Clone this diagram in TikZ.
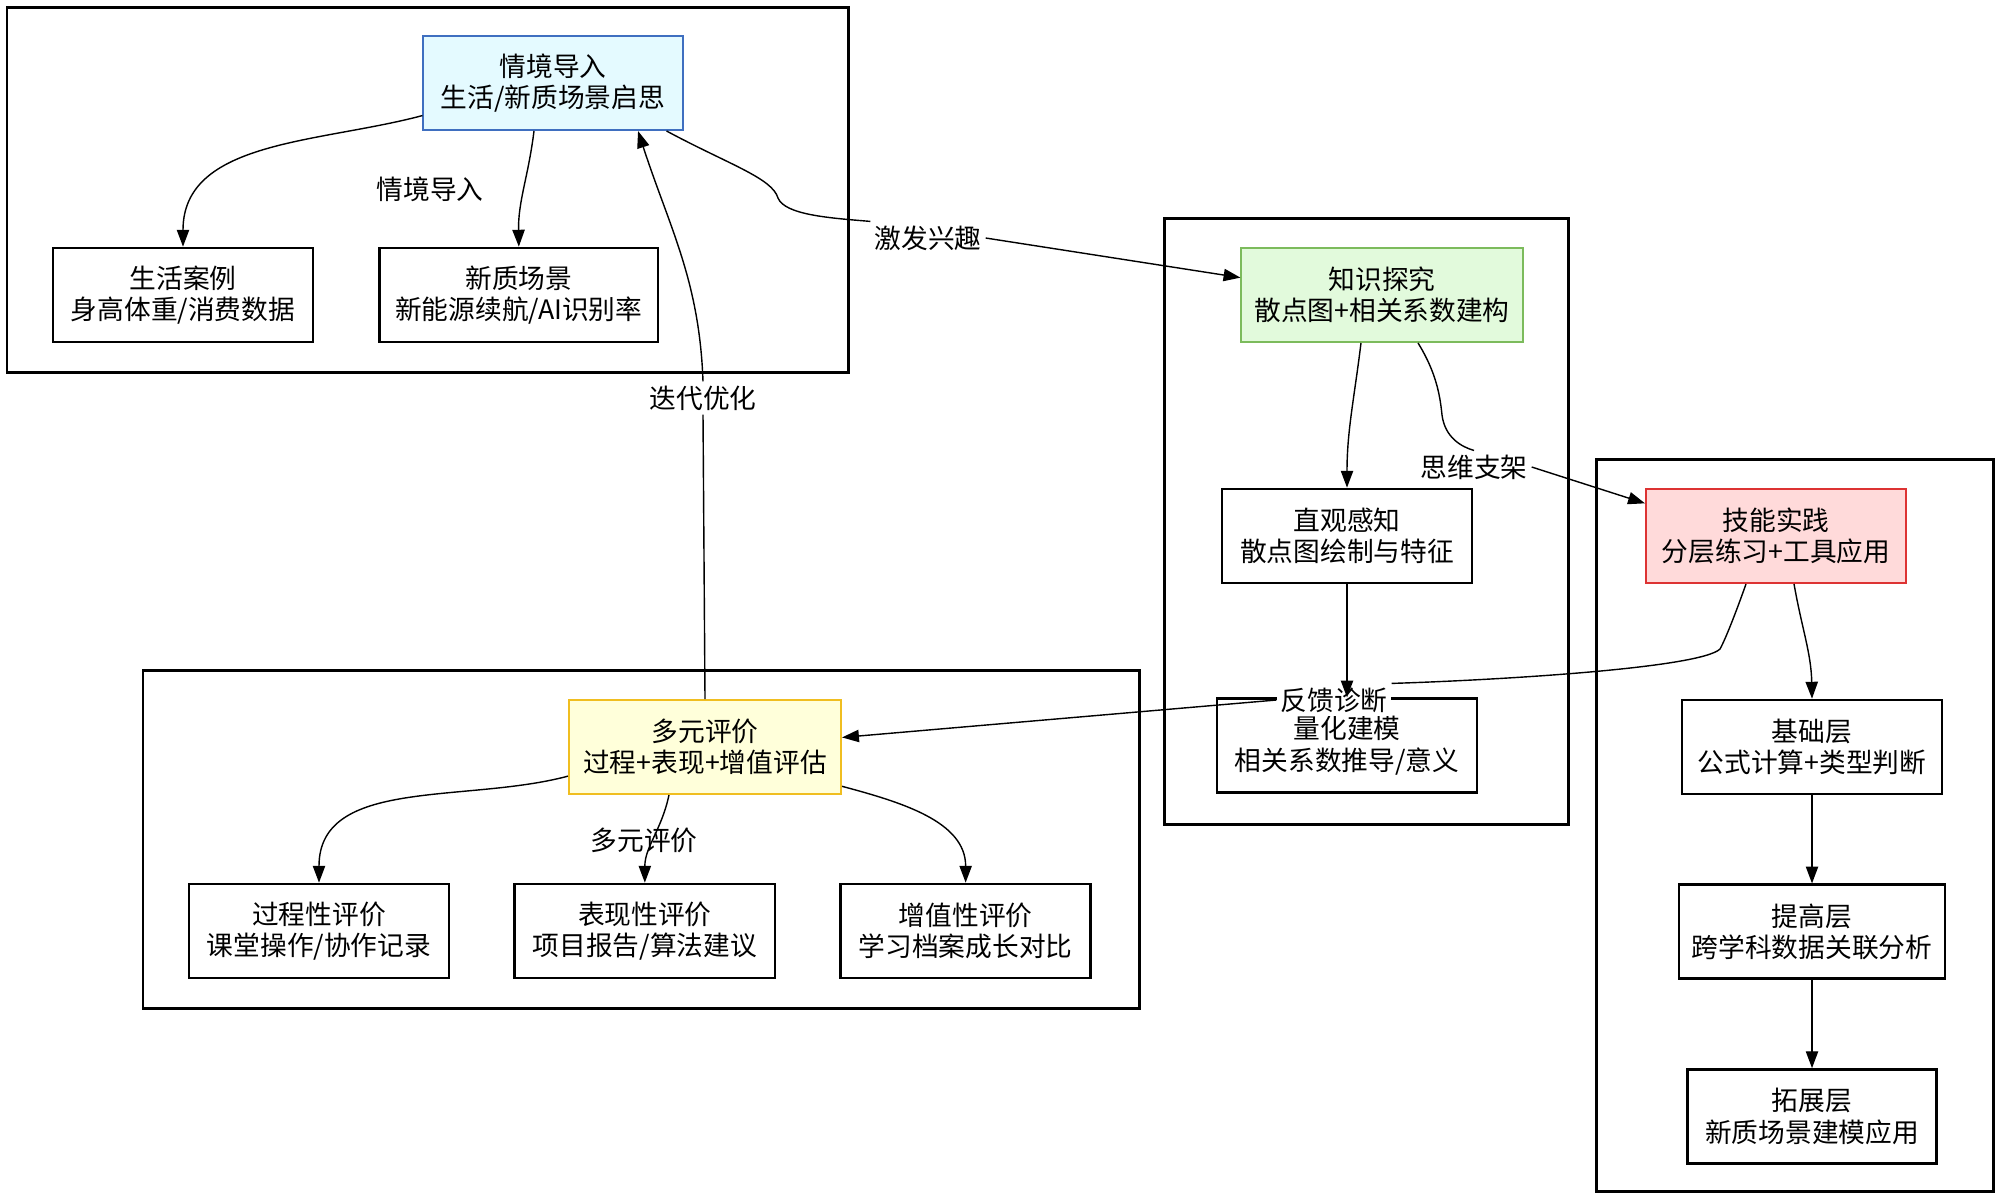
\documentclass[tikz,border=0pt]{standalone}
\usepackage{fontspec}
\setmainfont{Noto Sans CJK SC}
\usetikzlibrary{positioning, arrows.meta}

\definecolor{introfill}{HTML}{E4FAFF}
\definecolor{introline}{HTML}{3F6FC0}
\definecolor{explorefill}{HTML}{E2FADC}
\definecolor{exploreline}{HTML}{7CBB5C}
\definecolor{practicefill}{HTML}{FFDADA}
\definecolor{practiceline}{HTML}{DD3333}
\definecolor{assessfill}{HTML}{FFFFDA}
\definecolor{assessline}{HTML}{F0BE20}

\begin{document}
\begin{tikzpicture}[
        x=0.01cm, y=0.01cm,
        font=\fontsize{7.6}{8.9}\selectfont,
        box/.style={rectangle, draw, line width=0.75pt, minimum width=2.6cm, minimum height=0.94cm, align=center, inner sep=1pt},
        intro/.style={box, draw=introline, fill=introfill, line width=0.55pt},
        explore/.style={box, draw=exploreline, fill=explorefill, line width=0.55pt},
        practice/.style={box, draw=practiceline, fill=practicefill, line width=0.55pt},
        assess/.style={box, draw=assessline, fill=assessfill, line width=0.55pt},
        cluster/.style={draw, line width=0.85pt},
        tag/.style={fill=white, inner sep=1pt},
        line/.style={-, line width=0.4pt},
        edge/.style={-{Triangle[length=4.8pt, width=3.5pt]}, line width=0.4pt}
    ]
        \useasboundingbox (0,0) rectangle (2000,-1196);

        % Clusters
        \draw[cluster] (7,-7) rectangle (848,-372);
        \draw[cluster] (1164,-218) rectangle (1568,-824);
        \draw[cluster] (1596,-459) rectangle (1993,-1191);
        \draw[cluster] (143,-670) rectangle (1139,-1008);

        % Scene introduction
        \node[intro, minimum width=2.59cm] (qj) at (553,-83) {情境导入\\生活/新质场景启思};
        \node[box] (shcl) at (183,-295) {生活案例\\身高体重/消费数据};
        \node[box, minimum width=2.78cm, right=0.64cm of shcl] (xzcj) {新质场景\\新能源续航/AI识别率};

        % Knowledge exploration
        \node[explore, minimum width=2.81cm] (zstj) at (1382,-295) {知识探究\\散点图+相关系数建构};
        \node[box, minimum width=2.5cm] (zggz) at (1347,-536) {直观感知\\散点图绘制与特征};
        \node[box, below=1.13cm of zggz] (lhjm) {量化建模\\相关系数推导/意义};

        % Skill practice
        \node[practice] (jnsj) at (1776,-536) {技能实践\\分层练习+工具应用};
        \node[box] (jcc) at (1812,-747) {基础层\\公式计算+类型判断};
        \node[box, minimum width=2.66cm, below=0.88cm of jcc] (tgc) {提高层\\跨学科数据关联分析};
        \node[box, minimum width=2.49cm, below=0.88cm of tgc] (tzc) {拓展层\\新质场景建模应用};

        % Evaluation
        \node[assess, minimum width=2.72cm] (dypj) at (705,-747) {多元评价\\过程+表现+增值评估};
        \node[box] (gcx) at (319,-931) {过程性评价\\课堂操作/协作记录};
        \node[box, right=0.63cm of gcx] (bxx) {表现性评价\\项目报告/算法建议};
        \node[box, minimum width=2.5cm, right=0.63cm of bxx] (zzx) {增值性评价\\学习档案成长对比};

        % Edge labels
        \node[tag] (t1) at (430,-189) {情境导入};
        \node[tag] (t2) at (928,-238) {激发兴趣};
        \node[tag] (t3) at (1474,-467) {思维支架};
        \node[tag] (t4) at (1334,-700) {反馈诊断};
        \node[tag] (t5) at (703,-398) {迭代优化};
        \node[tag] (t6) at (644,-840) {多元评价};

        \draw[edge] (qj.194) to[out=195, in=90] (shcl.north);
        \draw[edge] ([xshift=-0.19cm]qj.south) to[out=-97, in=91] (xzcj.north);
        \draw[line] ([xshift=-0.17cm]qj.south east) .. controls (730,-165) and (772,-178) .. (778,-198) .. controls (785,-215) and (830,-218) .. (t2.north west);
        \draw[edge] (t2.east) -- (zstj.173);

        \draw[edge] ([xshift=-0.21cm]zstj.south) to[out=-97, in=90] (zggz.north);
        \draw[line] ([xshift=0.36cm]zstj.south) .. controls (1436,-372) and (1440,-395) .. (1442,-415) .. controls (1445,-438) and (1462,-447) .. (t3.north);
        \draw[edge] (t3.east) -- (jnsj.166);
        \draw[edge] (zggz) -- (lhjm);

        \draw[edge] ([xshift=0.18cm]jnsj.south) to[out=-80, in=91] (jcc.north);
        \draw[line] ([xshift=-0.30cm]jnsj.south) .. controls (1735,-615) and (1725,-640) .. (1720,-649) .. controls (1700,-668) and (1500,-680) .. (t4.north east);
        \draw[edge] (t4.west) -- (dypj.4);
        \draw[edge] (jcc) -- (tgc);
        \draw[edge] (tgc) -- (tzc);

        \draw[edge] (dypj.192) to[out=195, in=90] (gcx.north);
        \draw[edge] ([xshift=-0.36cm]dypj.south) to[out=-102, in=90] (bxx.north);
        \draw[edge] (dypj.-16) to[out=-15, in=90] (zzx.north);
        \draw[line] (dypj.north) -- (t5.south);
        \draw[edge] (t5.north) to[out=92, in=-72] ([xshift=0.85cm]qj.south);
    \end{tikzpicture}
\end{document}
